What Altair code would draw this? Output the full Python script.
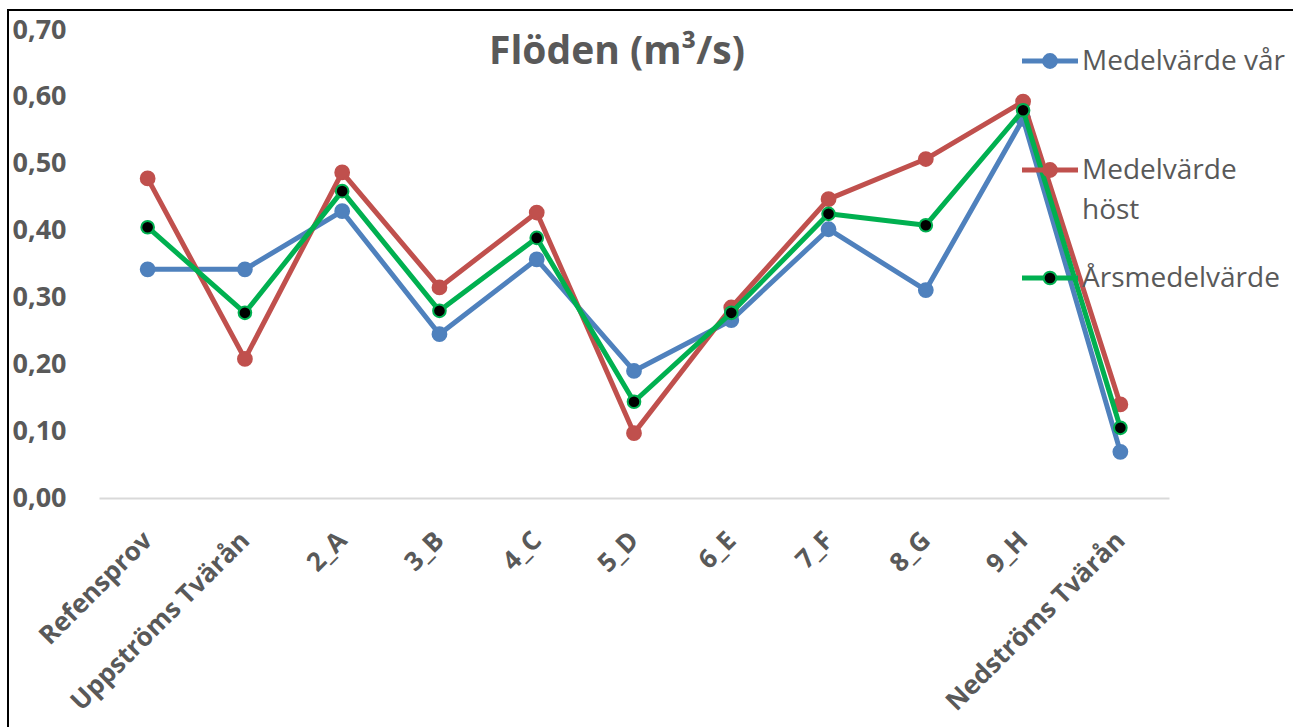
import altair as alt
import pandas as pd

sites = ["Refensprov", "Uppströms Tvärån", "2_A", "3_B", "4_C", "5_D",
         "6_E", "7_F", "8_G", "9_H", "Nedströms Tvärån"]
series_names = ["Medelvärde vår", "Medelvärde höst", "Årsmedelvärde"]
legend_labels = ["Medelvärde vår", "Medelvärde\nhöst", "Årsmedelvärde"]
var_vals = [0.342, 0.342, 0.429, 0.245, 0.357, 0.190, 0.266, 0.402, 0.311, 0.567, 0.069]
host_vals = [0.478, 0.208, 0.487, 0.315, 0.427, 0.097, 0.285, 0.447, 0.507, 0.593, 0.140]
ars_vals = [0.405, 0.277, 0.459, 0.280, 0.389, 0.144, 0.277, 0.425, 0.408, 0.580, 0.105]
line_colors = ["#4F81BD", "#C0504D", "#00B050"]
fill_colors = ["#4F81BD", "#C0504D", "#000000"]
y_ticks = [0.0, 0.1, 0.2, 0.3, 0.4, 0.5, 0.6, 0.7]

rows = []
for name, vals in zip(series_names, [var_vals, host_vals, ars_vals]):
    for s, v in zip(sites, vals):
        rows.append({"site": s, "serie": name, "value": v})
df = pd.DataFrame(rows)

FONT = "Open Sans"
GRAY = "#595959"

xenc = alt.X("site:N", sort=sites,
             scale=alt.Scale(type="point", padding=0.5),
             axis=alt.Axis(title=None, labelAngle=-45, labelAlign="right",
                           labelBaseline="middle", labelFont=FONT, labelFontSize=26,
                           labelFontWeight="bold", labelColor=GRAY, labelPadding=38,
                           ticks=False, domainColor="#D9D9D9", domainWidth=2,
                           grid=False, labelLimit=400))
yenc = alt.Y("value:Q", scale=alt.Scale(domain=[0, 0.7], nice=False, zero=True),
             axis=alt.Axis(title=None, values=y_ticks, grid=False, domain=False,
                           ticks=False, labelAlign="left", labelPadding=87,
                           labelFont=FONT, labelFontSize=27, labelFontWeight="bold",
                           labelColor=GRAY,
                           labelExpr="replace(format(datum.value, '.2f'), '.', ',')"))

color_scale = alt.Scale(domain=series_names, range=line_colors)
fill_scale = alt.Scale(domain=series_names, range=fill_colors)

layers = []
sizes = [190, 190, 160]
for name, size in zip(series_names, sizes):
    base = alt.Chart(df).transform_filter(alt.datum.serie == name)
    layers.append(base.mark_line(strokeWidth=5, strokeJoin="round").encode(
        x=xenc, y=yenc, stroke=alt.Stroke("serie:N", scale=color_scale, legend=None)))
    layers.append(base.mark_point(shape="circle", size=size, strokeWidth=2, opacity=1,
                                  filled=False).encode(
        x=xenc, y=yenc,
        stroke=alt.Stroke("serie:N", scale=color_scale, legend=None),
        fill=alt.Fill("serie:N", scale=fill_scale, legend=None)))

# manual legend (decoration, placed at the right)
leg_sym_y = [31, 140, 248]
leg_txt_y = [31, 140, 248]
one = pd.DataFrame({"a": [0]})
for i, name in enumerate(series_names):
    layers.append(alt.Chart(one).mark_rule(strokeWidth=5, color=line_colors[i]).encode(
        x=alt.value(923), x2=alt.value(979), y=alt.value(leg_sym_y[i])))
    layers.append(alt.Chart(one).mark_point(shape="circle", size=sizes[i], strokeWidth=2,
                                            opacity=1, fill=fill_colors[i],
                                            stroke=line_colors[i]).encode(
        x=alt.value(951), y=alt.value(leg_sym_y[i])))
    layers.append(alt.Chart(one).mark_text(
        text=legend_labels[i], lineBreak="\n", lineHeight=40, align="left",
        baseline="top", font=FONT, fontSize=28, color=GRAY, dy=-13).encode(
        x=alt.value(983), y=alt.value(leg_txt_y[i])))

title = alt.Chart(one).mark_text(
    text="Flöden (m³/s)", font=FONT, fontSize=39, fontWeight="bold", color=GRAY,
    align="center", baseline="alphabetic").encode(x=alt.value(518), y=alt.value(34))

frame = alt.Chart(one).mark_rect(
    fill=None, stroke="black", strokeWidth=2).encode(
    x=alt.value(-91), y=alt.value(-20), x2=alt.value(1300), y2=alt.value(800))

chart = alt.layer(frame, title, *layers).properties(
    width=1070, height=468,
    autosize=alt.AutoSizeParams(type="none"),
    padding={"left": 99, "top": 30, "right": 124, "bottom": 229},
    background="white",
).configure_view(stroke=None)

chart.save("out.html", embed_options={"renderer": "svg", "actions": False})
